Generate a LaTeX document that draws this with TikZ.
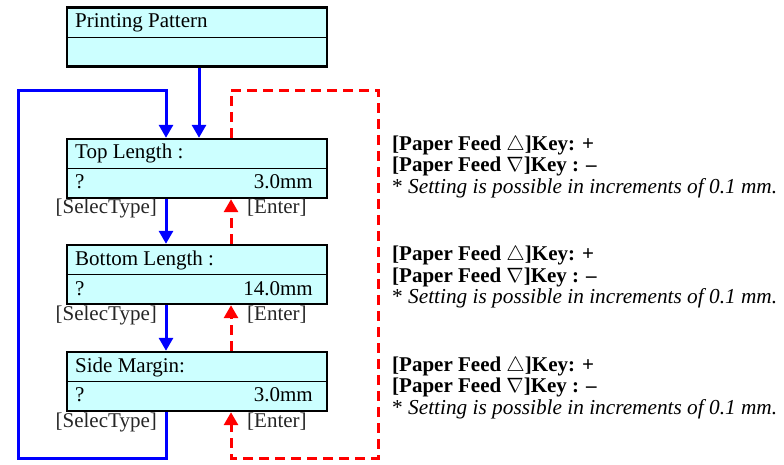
\documentclass[tikz,border=0pt]{standalone}
\usepackage{fontspec}
\setmainfont{Liberation Serif}
\usetikzlibrary{arrows.meta}
\definecolor{lcd}{RGB}{204,255,255}
\definecolor{flowblue}{RGB}{0,0,255}
\definecolor{flowred}{RGB}{255,0,0}
\begin{document}
\begin{tikzpicture}[x=1pt,y=-1pt,
  lcdbox/.style={draw=black, line width=2.4pt, fill=lcd, minimum width=260pt, minimum height=59pt, inner sep=0pt},
  divline/.style={draw=black, line width=1pt},
  txt/.style={font=\fontsize{21}{22}\selectfont, inner sep=0pt},
  keytxt/.style={font=\fontsize{21}{22}\selectfont\bfseries, inner sep=0pt, anchor=base west},
  notetxt/.style={font=\fontsize{21.3}{22}\selectfont, inner sep=0pt, anchor=base west},
  keylabel/.style={font=\fontsize{21}{22}\selectfont, inner sep=0pt, text=black!85},
  selflow/.style={draw=flowblue, line width=3pt, -{Triangle[width=14pt,length=13pt]}},
  entflow/.style={draw=flowred, line width=3pt, dash pattern=on 10pt off 6pt, -{Triangle[width=14pt,length=13pt]}},
]
\useasboundingbox (0,0) rectangle (784,464);

% boxes
\node[lcdbox] (pp) at (197,37) {};
\node[lcdbox] (tl) at (197,168.5) {};
\node[lcdbox] (bl) at (197,274.5) {};
\node[lcdbox] (sm) at (197,381.5) {};
\foreach \b in {pp,tl,bl,sm} {\draw[divline] (\b.west) -- (\b.east);}

% box texts
\node[txt, anchor=base west] (pp-t) at (75,27.7) {Printing Pattern};
\node[txt, anchor=base west] (tl-t) at (75,158) {Top Length :};
\node[txt, anchor=base west] (tl-q) at (75,188) {?};
\node[txt, anchor=base east] (tl-v) at (313,188) {3.0mm};
\node[txt, anchor=base west] (bl-t) at (75,265) {Bottom Length :};
\node[txt, anchor=base west] (bl-q) at (75,295) {?};
\node[txt, anchor=base east] (bl-v) at (313,295) {14.0mm};
\node[txt, anchor=base west] (sm-t) at (75,372) {Side Margin:};
\node[txt, anchor=base west] (sm-q) at (75,401) {?};
\node[txt, anchor=base east] (sm-v) at (313,401) {3.0mm};

% key labels
\node[keylabel, anchor=base east] (s1) at (157,213) {[SelecType]};
\node[keylabel, anchor=base west] (e1) at (247,213) {[Enter]};
\node[keylabel, anchor=base east] (s2) at (157,320) {[SelecType]};
\node[keylabel, anchor=base west] (e2) at (247,320) {[Enter]};
\node[keylabel, anchor=base east] (s3) at (157,427) {[SelecType]};
\node[keylabel, anchor=base west] (e3) at (247,427) {[Enter]};

% loop corners
\coordinate (btl) at (18,90);
\coordinate (btr) at (166,90);
\coordinate (bbl) at (18,458);
\coordinate (bbr) at (166,458);
\coordinate (rtl) at (231,90);
\coordinate (rtr) at (378,90);
\coordinate (rbl) at (231,458);
\coordinate (rbr) at (378,458);

% blue flow
\draw[selflow] ([xshift=2pt]pp.south) -- ([xshift=2pt]tl.north);
\draw[selflow] ([xshift=-31pt]tl.south) -- ([xshift=-31pt]bl.north);
\draw[selflow] ([xshift=-31pt]bl.south) -- ([xshift=-31pt]sm.north);
\draw[selflow] ([xshift=-31pt]sm.south) -- (bbr) -- (bbl) -- (btl) -- (btr) -- ([xshift=-31pt]tl.north);

% red flow
\draw[entflow] ([xshift=34pt]bl.north) -- ([xshift=34pt]tl.south);
\draw[entflow] ([xshift=34pt]sm.north) -- ([xshift=34pt]bl.south);
\draw[entflow] ([xshift=34pt]tl.north) -- (rtl) -- (rtr) -- (rbr) -- (rbl) -- ([xshift=34pt]sm.south);

% right notes
\foreach \y [count=\i] in {150,260.5,371} {
  \node[keytxt] (k\i a) at (392,\y) {[Paper Feed $\triangle$]Key: +};
  \node[keytxt] (k\i b) at (392,\y+21.5) {[Paper Feed $\nabla$]Key : –};
  \node[notetxt] (k\i c) at (392,\y+43) {* \textit{Setting is possible in increments of 0.1 mm.}};
}
\end{tikzpicture}
\end{document}
